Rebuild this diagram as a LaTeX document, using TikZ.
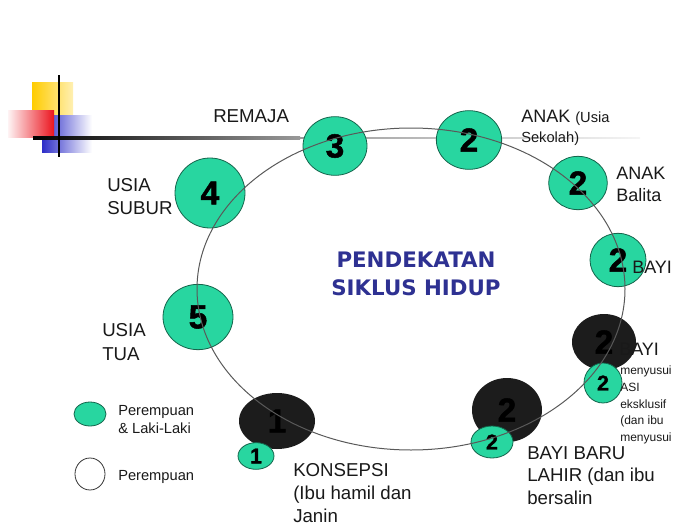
\documentclass[tikz,border=0pt]{standalone}
\usepackage{fontspec}
\setmainfont{Liberation Sans}
\newfontfamily\titlefont{DejaVu Sans}
\newfontfamily\digitfont{Liberation Sans}[BoldFeatures={FakeBold=1.5}]
\usetikzlibrary{shapes.geometric}
\definecolor{grn}{RGB}{40,214,160}
\definecolor{grnline}{RGB}{20,100,75}
\definecolor{blk}{RGB}{28,28,28}
\definecolor{ttl}{RGB}{46,49,146}
\definecolor{ink}{RGB}{25,25,25}
\definecolor{logoyellow}{RGB}{255,204,0}
\definecolor{logored}{RGB}{235,20,30}
\definecolor{logoblue}{RGB}{45,45,200}
\begin{document}
\begin{tikzpicture}[x=0.75pt,y=-0.75pt,
  stage/.style={ellipse, draw=grnline, line width=0.6pt, fill=grn, inner sep=0pt,
    text=black, font=\digitfont\bfseries\fontsize{25}{25}\selectfont},
  smallstage/.style={stage, font=\digitfont\bfseries\fontsize{16}{16}\selectfont},
  darkstage/.style={ellipse, fill=blk, draw=none, inner sep=0pt,
    text=black, font=\digitfont\bfseries\fontsize{25}{25}\selectfont},
  legendmark/.style={ellipse, draw=black!80, line width=0.6pt, inner sep=0pt},
  lbl/.style={inner sep=0pt, text=ink, align=left, anchor=north west},
  big/.style={font=\fontsize{14}{17.25}\selectfont},
  mid/.style={font=\fontsize{11}{13.5}\selectfont},
  tiny/.style={font=\fontsize{9}{12.4}\selectfont}
]
\useasboundingbox (0,0) rectangle (700,525);

% logo
\shade[left color=logoyellow, middle color=logoyellow, right color=logoyellow!30] (32,82) rectangle (73,124);
\shade[left color=logoblue, middle color=logoblue!90, right color=white] (42,115) rectangle (92,152);
\shade[left color=logored!5, right color=logored] (8,110) rectangle (54,137);
\shade[left color=black, right color=black!40] (33,136.8) rectangle (300,139);
\shade[left color=black!40, right color=black!4] (300,137) rectangle (640,138.8);
\fill[black] (58.2,75) rectangle (60.2,157);

% stages
\node[stage, minimum width=48pt, minimum height=44pt] (c3) at (335,146) {3};
\node[stage, minimum width=49pt, minimum height=44pt] (c2top) at (469,140) {2};
\node[stage, minimum width=44pt, minimum height=40pt] (c2balita) at (578,183) {2};
\node[stage, minimum width=42pt, minimum height=40pt] (c2bayi) at (618,260) {2};
\node[stage, minimum width=52.5pt, minimum height=52.5pt] (c4) at (210,193) {4};
\node[stage, minimum width=52.5pt, minimum height=49pt] (c5) at (198,317) {5};
\node[darkstage, minimum width=48pt, minimum height=42pt] (k2menyusui) at (604,342) {2};
\node[smallstage, minimum width=28.5pt, minimum height=30pt] (g2menyusui) at (603,383) {2};
\node[darkstage, minimum width=52.5pt, minimum height=48pt] (k2lahir) at (507,410) {2};
\node[smallstage, minimum width=31.5pt, minimum height=24pt] (g2lahir) at (492,442) {2};
\node[darkstage, minimum width=57pt, minimum height=42pt] (k1) at (277,421) {1};
\node[smallstage, minimum width=27pt, minimum height=20pt] (g1) at (256,456) {1};

% life cycle
\draw[black!65, line width=0.75pt] (411,289) ellipse [x radius=214, y radius=161];

% title
\node[inner sep=0pt, anchor=north, align=center, text=ttl,
  font=\titlefont\bfseries\fontsize{16}{21}\selectfont] (title) at (416,252)
  {PENDEKATAN\\SIKLUS HIDUP};

% labels
\node[inner sep=0pt, anchor=base west, text=ink, font=\fontsize{14}{17}\selectfont] (remaja) at (213,122) {REMAJA};
\node[inner sep=0pt, anchor=base west, text=ink, font=\fontsize{13.5}{17}\selectfont] (anak1) at (521,122) {ANAK {\fontsize{11}{13}\selectfont (Usia}};
\node[inner sep=0pt, anchor=base west, text=ink, font=\fontsize{11}{13}\selectfont] (anak1b) at (521,142) {Sekolah)};
\node[lbl, font=\fontsize{13.5}{16.5}\selectfont] (anak2) at (616,167) {ANAK\\Balita};
\node[inner sep=0pt, anchor=base west, text=ink, font=\fontsize{13.5}{17}\selectfont] (bayi1) at (632,273) {BAYI};
\node[inner sep=0pt, anchor=base west, text=ink, font=\fontsize{13.5}{17}\selectfont] (bayi2) at (619,355) {BAYI};
\node[lbl, tiny] (bayi2b) at (620,366) {menyusui\\ASI\\eksklusif\\(dan ibu\\menyusui};
\node[lbl, font=\fontsize{14}{16.9}\selectfont] (bayi3) at (527,446) {BAYI BARU\\LAHIR (dan ibu\\bersalin};
\node[lbl, big] (konsepsi) at (293,463) {KONSEPSI\\(Ibu hamil dan\\Janin};
\node[lbl, big] (subur) at (107,178) {USIA\\SUBUR};
\node[lbl, font=\fontsize{14}{18}\selectfont] (tua) at (102,323) {USIA\\TUA};

% legend
\node[legendmark, fill=grn, draw=grnline, minimum width=24pt, minimum height=18pt] (leg1) at (90,414) {};
\node[lbl, mid] (leg1t) at (118,405) {Perempuan\\\& Laki-Laki};
\node[legendmark, fill=white, minimum width=22.5pt, minimum height=24pt] (leg2) at (90,474) {};
\node[inner sep=0pt, anchor=base west, text=ink, font=\fontsize{11}{13.5}\selectfont] (leg2t) at (118,480) {Perempuan};
\end{tikzpicture}
\end{document}
